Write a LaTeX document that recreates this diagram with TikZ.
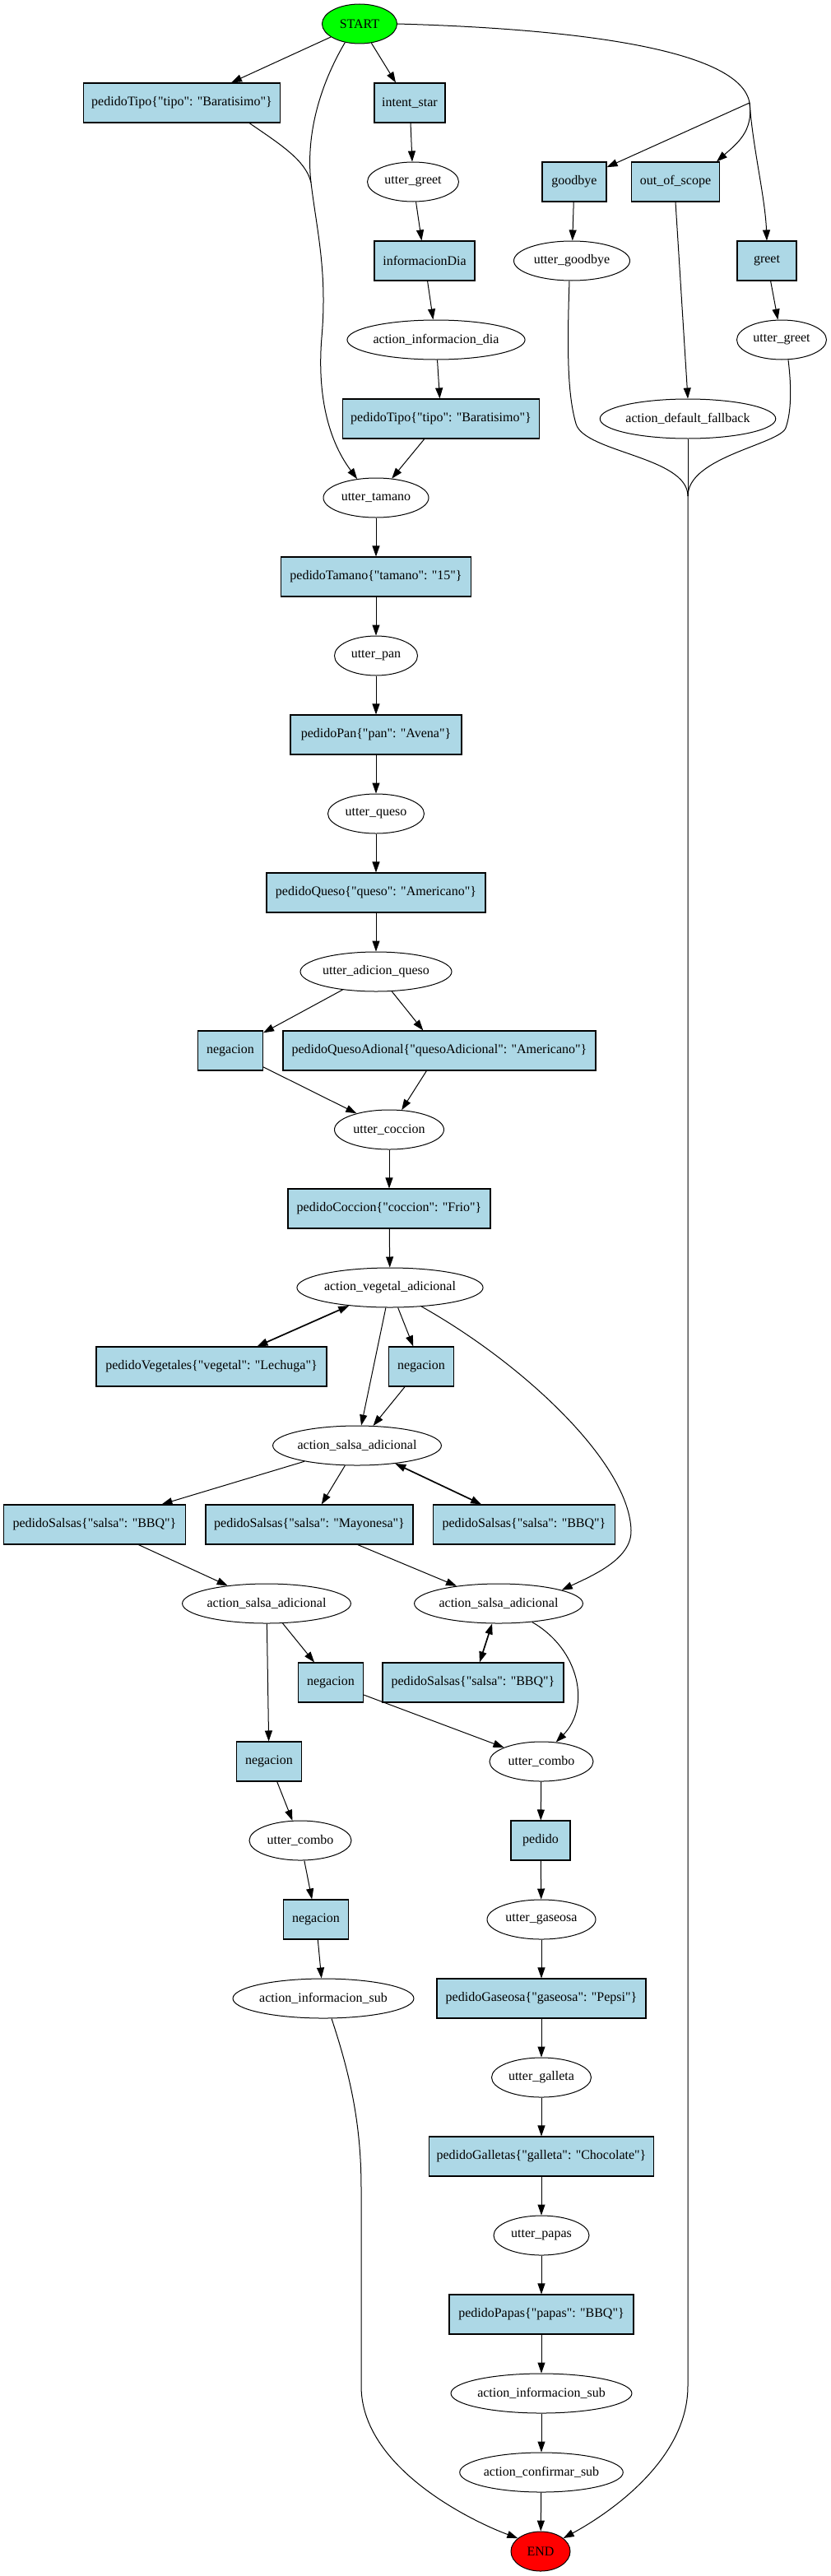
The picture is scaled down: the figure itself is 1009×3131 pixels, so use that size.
\documentclass[tikz,border=0pt]{standalone}
\usepackage{fontspec}
\newfontfamily\gvfont{Liberation Serif}
\usetikzlibrary{arrows.meta,shapes.geometric}
\definecolor{lb}{HTML}{ADD8E6}
\definecolor{gstart}{HTML}{00FF00}
\definecolor{rend}{HTML}{FF0000}
\begin{document}
\begin{tikzpicture}[x=1pt,y=-1pt, font=\gvfont\fontsize{16}{18}\selectfont,
 bx/.style={draw, fill=lb, rectangle, minimum height=48pt, inner xsep=8pt, line width=1.1pt},
 el/.style={draw, ellipse, minimum height=48pt, inner sep=0pt, line width=1pt},
 ln/.style={line width=1pt},
 ed/.style={line width=1pt, -{Triangle[length=13pt,width=9pt]}},
 bi/.style={line width=1.7pt, {Triangle[length=13pt,width=9pt]}-{Triangle[length=13pt,width=9pt]}}]
\useasboundingbox (0,0) rectangle (1009,3131);
% nodes
\node[el, minimum width=91pt, fill=gstart] (START) at (437,29) {START};
\node[bx, minimum width=239pt] (p1) at (221,125) {pedidoTipo\{"tipo": "Baratisimo"\}};
\node[bx, minimum width=86pt] (intent) at (498,125) {intent\_star};
\node[el, minimum width=111pt] (ug1) at (502,221) {utter\_greet};
\node[bx, minimum width=78pt] (goodbye) at (698,221) {goodbye};
\node[bx, minimum width=107pt] (oos) at (821,221) {out\_of\_scope};
\node[bx, minimum width=122pt] (infoDia) at (516,317) {informacionDia};
\node[el, minimum width=141pt] (ugb) at (695,317) {utter\_goodbye};
\node[bx, minimum width=72pt] (greet) at (932,317) {greet};
\node[el, minimum width=212pt] (aid) at (530,413) {action\_informacion\_dia};
\node[el, minimum width=109pt] (ug2) at (950,413) {utter\_greet};
\node[bx, minimum width=239pt] (p2) at (536,509) {pedidoTipo\{"tipo": "Baratisimo"\}};
\node[el, minimum width=210pt] (adf) at (836,509) {action\_default\_fallback};
\node[el, minimum width=128pt] (tam) at (457,605) {utter\_tamano};
\node[bx, minimum width=231pt] (ptam) at (457,701) {pedidoTamano\{"tamano": "15"\}};
\node[el, minimum width=101pt] (pan) at (457,797) {utter\_pan};
\node[bx, minimum width=208pt] (ppan) at (457,893) {pedidoPan\{"pan": "Avena"\}};
\node[el, minimum width=117pt] (queso) at (457,989) {utter\_queso};
\node[bx, minimum width=266pt] (pqueso) at (457,1085) {pedidoQueso\{"queso": "Americano"\}};
\node[el, minimum width=184pt] (uaq) at (457,1181) {utter\_adicion\_queso};
\node[bx, minimum width=79pt] (neg1) at (280,1277) {negacion};
\node[bx, minimum width=380pt] (pqa) at (534,1277) {pedidoQuesoAdional\{"quesoAdicional": "Americano"\}};
\node[el, minimum width=133pt] (ucoc) at (473,1373) {utter\_coccion};
\node[bx, minimum width=246pt] (pcoc) at (473,1469) {pedidoCoccion\{"coccion": "Frio"\}};
\node[el, minimum width=220pt] (ava) at (474,1565) {action\_vegetal\_adicional};
\node[bx, minimum width=280pt] (pveg) at (257,1661) {pedidoVegetales\{"vegetal": "Lechuga"\}};
\node[bx, minimum width=79pt] (neg2) at (512,1661) {negacion};
\node[el, minimum width=202pt] (asa1) at (434,1757) {action\_salsa\_adicional};
\node[bx, minimum width=221pt] (ps1) at (115,1853) {pedidoSalsas\{"salsa": "BBQ"\}};
\node[bx, minimum width=252pt] (psm) at (376,1853) {pedidoSalsas\{"salsa": "Mayonesa"\}};
\node[bx, minimum width=221pt] (ps2) at (637,1853) {pedidoSalsas\{"salsa": "BBQ"\}};
\node[el, minimum width=201pt] (asa2) at (324,1949) {action\_salsa\_adicional};
\node[el, minimum width=201pt] (asa3) at (606,1949) {action\_salsa\_adicional};
\node[bx, minimum width=79pt] (neg3) at (402,2045) {negacion};
\node[bx, minimum width=220pt] (ps3) at (575,2045) {pedidoSalsas\{"salsa": "BBQ"\}};
\node[bx, minimum width=79pt] (neg4) at (327,2141) {negacion};
\node[el, minimum width=126pt] (uc1) at (658,2141) {utter\_combo};
\node[el, minimum width=124pt] (uc2) at (365,2237) {utter\_combo};
\node[bx, minimum width=72pt] (pedido) at (657,2237) {pedido};
\node[bx, minimum width=79pt] (neg5) at (384,2333) {negacion};
\node[el, minimum width=132pt] (ugas) at (658,2333) {utter\_gaseosa};
\node[el, minimum width=216pt] (ais1) at (393,2429) {action\_informacion\_sub};
\node[bx, minimum width=254pt] (pgas) at (658,2429) {pedidoGaseosa\{"gaseosa": "Pepsi"\}};
\node[el, minimum width=121pt] (ugal) at (658,2525) {utter\_galleta};
\node[bx, minimum width=273pt] (pgal) at (658,2621) {pedidoGalletas\{"galleta": "Chocolate"\}};
\node[el, minimum width=116pt] (upap) at (658,2717) {utter\_papas};
\node[bx, minimum width=224pt] (ppap) at (658,2813) {pedidoPapas\{"papas": "BBQ"\}};
\node[el, minimum width=216pt] (ais2) at (658,2909) {action\_informacion\_sub};
\node[el, minimum width=197pt] (acs) at (658,3005) {action\_confirmar\_sub};
\node[el, minimum width=72pt, fill=rend] (END) at (657,3101) {END};
\coordinate (branch) at (911,125);
\coordinate (merge) at (836,603);
\coordinate (join) at (378,222);
% edges from START
\draw[ed] (START) -- ([xshift=60pt]p1.north);
\draw[ed] (START) -- ([xshift=-17pt]intent.north);
\draw[ln] (START.-128) .. controls (385,110) and (372,170) .. (join);
\draw[ed] (join) .. controls (385,280) and (398,330) .. (391,410) .. controls (386,470) and (395,530) .. (tam.135);
\draw[ln] ([xshift=82pt]p1.south) .. controls (340,175) and (372,195) .. (join);
\draw[ln] (START.east) .. controls (700,35) and (900,60) .. (branch);
\draw[ed] (branch) -- (goodbye);
\draw[ed] (branch) .. controls (916,160) and (895,175) .. ([xshift=50pt]oos.north);
\draw[ed] (branch) .. controls (915,180) and (930,240) .. (greet.north);
% left-middle chain
\draw[ed] (intent) -- (ug1);
\draw[ed] (ug1) -- (infoDia);
\draw[ed] (infoDia) -- (aid);
\draw[ed] (aid) -- (p2);
\draw[ed] (p2) -- (tam);
% right chain
\draw[ed] (goodbye) -- (ugb);
\draw[ed] (oos.south) -- (adf.north);
\draw[ed] (greet) -- (ug2);
\draw[ln] ([xshift=-3pt]ugb.south) .. controls (689,430) and (690,480) .. (700,515) .. controls (710,550) and (836,555) .. (merge);
\draw[ln] (adf) -- (merge);
\draw[ln] ([xshift=8pt]ug2.south) .. controls (962,470) and (962,500) .. (955,520) .. controls (948,540) and (836,555) .. (merge);
\draw[ed] (merge) -- (836,2900) .. controls (836,2990) and (740,3055) .. (END.30);
% main spine
\draw[ed] (tam) -- (ptam);
\draw[ed] (ptam) -- (pan);
\draw[ed] (pan) -- (ppan);
\draw[ed] (ppan) -- (queso);
\draw[ed] (queso) -- (pqueso);
\draw[ed] (pqueso) -- (uaq);
\draw[ed] (uaq) -- (neg1);
\draw[ed] (uaq) -- (pqa);
\draw[ed] (neg1) -- (ucoc);
\draw[ed] (pqa) -- (ucoc);
\draw[ed] (ucoc) -- (pcoc);
\draw[ed] (pcoc) -- (ava);
\draw[bi] (ava) -- (pveg);
\draw[ed] (ava) -- (neg2);
\draw[ed] (ava) -- (asa1);
\draw[ed] (neg2) -- (asa1);
\draw[ed] (ava.-31) .. controls (640,1660) and (765,1780) .. (767,1860) .. controls (768,1895) and (720,1915) .. (asa3.12);
\draw[ed] (asa1) -- (ps1);
\draw[ed] (asa1) -- (psm);
\draw[bi] (asa1) -- (ps2);
\draw[ed] (ps1) -- (asa2);
\draw[ed] (psm) -- (asa3);
\draw[ed] (asa2) -- (neg3);
\draw[ed] (asa2) -- (neg4);
\draw[bi] (asa3) -- (ps3);
\draw[ed] (asa3.-29) .. controls (705,2005) and (718,2075) .. (uc1.53);
\draw[ed] (neg3) -- (uc1);
\draw[ed] (neg4) -- (uc2);
\draw[ed] (uc2) -- (neg5);
\draw[ed] (neg5) -- (ais1);
\draw[ed] ([xshift=10pt]ais1.south) .. controls (425,2520) and (439,2580) .. (439,2660) -- (439,2900) .. controls (439,3000) and (575,3065) .. (END.150);
\draw[ed] (uc1) -- (pedido);
\draw[ed] (pedido) -- (ugas);
\draw[ed] (ugas) -- (pgas);
\draw[ed] (pgas) -- (ugal);
\draw[ed] (ugal) -- (pgal);
\draw[ed] (pgal) -- (upap);
\draw[ed] (upap) -- (ppap);
\draw[ed] (ppap) -- (ais2);
\draw[ed] (ais2) -- (acs);
\draw[ed] (acs) -- (END);
\end{tikzpicture}
\end{document}
